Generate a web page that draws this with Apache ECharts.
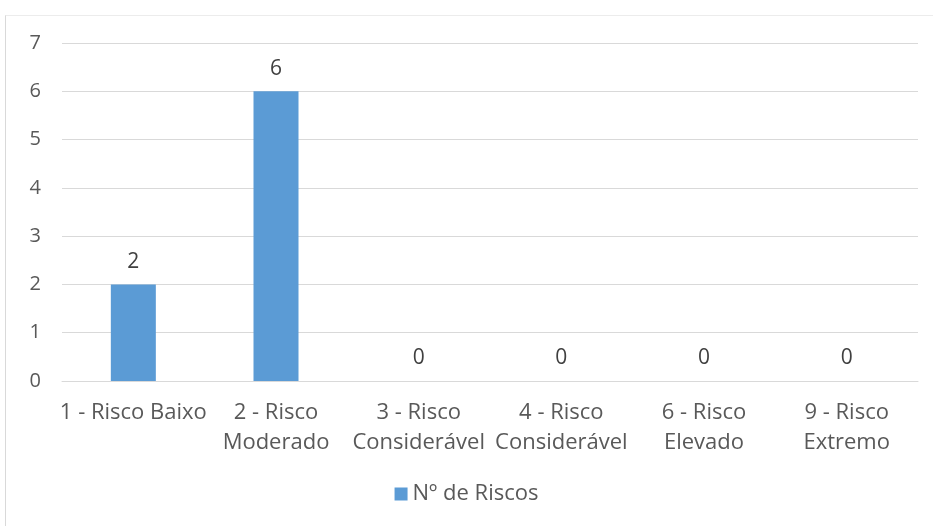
<!DOCTYPE html>
<html>
<head>
<meta charset="utf-8">
<script src="https://cdn.jsdelivr.net/npm/echarts@6/dist/echarts.min.js"></script>
<style>
  html, body { margin: 0; padding: 0; background: #fff; }
  #frame {
    position: absolute; left: 5px; top: 15px; width: 930px; height: 520px;
    border-top: 1px solid #ececec; border-left: 1px solid #d9d9d9;
  }
  #chart { position: absolute; left: 0; top: 0; width: 933px; height: 526px; }
</style>
</head>
<body>
<div id="frame"></div>
<div id="chart"></div>
<script>
// níveis de risco (eixo x)
const categories = [
  '1 - Risco Baixo',
  '2 - Risco\nModerado',
  '3 - Risco\nConsiderável',
  '4 - Risco\nConsiderável',
  '6 - Risco\nElevado',
  '9 - Risco\nExtremo'
]
// nº de riscos por nível
const riskCounts = [2, 6, 0, 0, 0, 0]
const seriesName = 'Nº de Riscos'
const yMin = 0
const yMax = 7
const yStep = 1

const font = '"Open Sans", "Noto Sans", sans-serif'
const chart = echarts.init(document.getElementById('chart'))
chart.setOption({
  animation: false,
  textStyle: { fontFamily: font },
  grid: {
    left: 62,
    right: 15,
    top: 43,
    bottom: 145
  },
  legend: {
    bottom: 16,
    left: 'center',
    itemWidth: 13,
    itemHeight: 13,
    itemGap: 4,
    icon: 'rect',
    textStyle: { fontSize: 22, color: '#595959', fontFamily: font },
    data: [seriesName]
  },
  xAxis: {
    type: 'category',
    data: categories,
    axisLine: { lineStyle: { color: '#d9d9d9', width: 1 } },
    axisTick: { show: false },
    axisLabel: {
      color: '#595959',
      fontSize: 22,
      lineHeight: 30,
      margin: 17,
      interval: 0,
      fontFamily: font
    }
  },
  yAxis: {
    type: 'value',
    min: yMin,
    max: yMax,
    interval: yStep,
    axisLine: { show: false },
    axisTick: { show: false },
    splitLine: { lineStyle: { color: '#d9d9d9', width: 1 } },
    axisLabel: {
      color: '#595959',
      fontSize: 20,
      margin: 21,
      fontFamily: font
    }
  },
  series: [{
    name: seriesName,
    type: 'bar',
    data: riskCounts,
    barWidth: 45,
    itemStyle: { color: '#5b9bd5' },
    label: {
      show: true,
      position: 'top',
      distance: 12,
      color: '#404040',
      fontSize: 21,
      fontFamily: font
    }
  }]
})
</script>
</body>
</html>
